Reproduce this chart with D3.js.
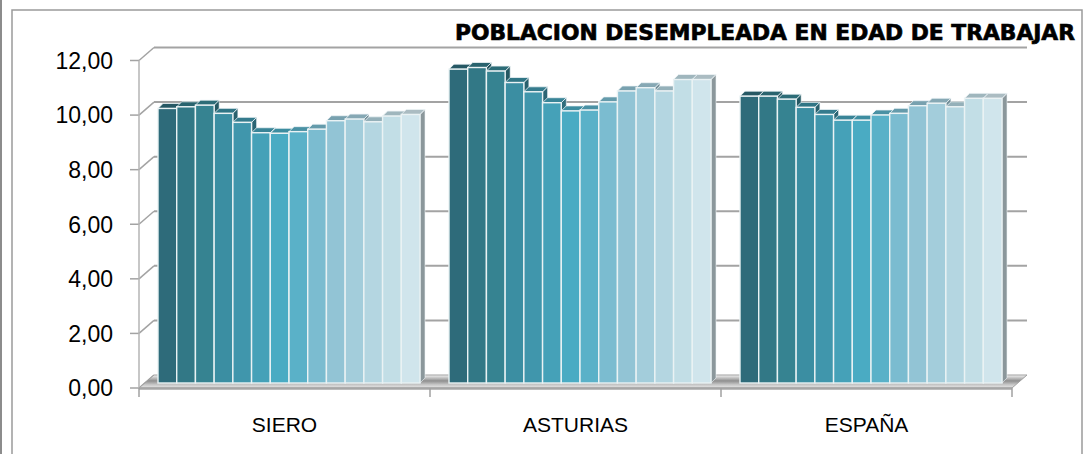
<!DOCTYPE html>
<html>
<head>
<meta charset="utf-8">
<script src="https://cdn.jsdelivr.net/npm/d3@7"></script>
<style>
  body { margin: 0; background: #fff; }
  svg { display: block; }
</style>
</head>
<body>
<div class="bar-chart"></div>
<script>
const W = 1084, H = 454;

// data
const categories = ["SIERO", "ASTURIAS", "ESPAÑA"];
const sieroValues    = [10.06, 10.12, 10.18, 9.88, 9.55, 9.17, 9.15, 9.21, 9.30, 9.61, 9.67, 9.57, 9.78, 9.84];
const asturiasValues = [11.50, 11.56, 11.43, 11.01, 10.67, 10.27, 9.97, 10.00, 10.30, 10.70, 10.82, 10.70, 11.12, 11.12];
const espanaValues   = [10.51, 10.51, 10.40, 10.10, 9.84, 9.63, 9.63, 9.82, 9.88, 10.16, 10.25, 10.12, 10.43, 10.43];
const yTicks = [0, 2, 4, 6, 8, 10, 12];
const seriesColors = ["#2e6b7a", "#327886", "#368391", "#3b8ea2", "#4096ac", "#45a1b8", "#4aabc3",
                      "#5ab1c8", "#7bbcd0", "#92c4d5", "#a3cddb", "#b4d6e1", "#c2dee6", "#d0e5ec"];

const valuesByCat = [sieroValues, asturiasValues, espanaValues];

// 3d offsets: front plane -> back wall, and bar depth
const WALL_DX = 15, WALL_DY = -13;
const BAR_SHIFT_X = 4.5, BAR_SHIFT_Y = -5;   // bar front face sits a bit behind the front plane
const BAR_DX = 5, BAR_DY = -5;               // bar depth

var svg = d3.select('.bar-chart')
    .append('svg')
    .attr('width', W)
    .attr('height', H);

// outer frame
svg.append("line").attr("x1", 1).attr("x2", 1).attr("y1", 0).attr("y2", H)
    .style("stroke", "#8c8c8c").style("stroke-width", 2);
svg.append("rect").attr("x", 12).attr("y", 10).attr("width", 1070).attr("height", H)
    .style("fill", "none").style("stroke", "#9a9a9a").style("stroke-width", 1.5);

var y = d3.scaleLinear().domain([0, 12]).range([388, 60.5]);
var x = d3.scaleBand().domain(categories).range([139, 1012]);
var groupWidth = 262;
var xSeries = d3.scaleBand().domain(d3.range(seriesColors.length)).range([0, groupWidth]);

var fmt = v => d3.format(".2f")(v).replace(".", ",");

// back wall gridlines + diagonals to front ticks
var grid = svg.append("g");
yTicks.forEach(function(t) {
    if (t > 0) {
        grid.append("line")
            .attr("x1", x.range()[0] + WALL_DX).attr("x2", x.range()[1] + WALL_DX)
            .attr("y1", y(t) + WALL_DY).attr("y2", y(t) + WALL_DY)
            .style("stroke", "#a3a3a3").style("stroke-width", 2);
    }
    grid.append("line")
        .attr("x1", x.range()[0]).attr("x2", x.range()[0] + WALL_DX)
        .attr("y1", y(t)).attr("y2", y(t) + WALL_DY)
        .style("stroke", "#a3a3a3").style("stroke-width", 1.5);
    grid.append("line")
        .attr("x1", 130).attr("x2", x.range()[0])
        .attr("y1", y(t)).attr("y2", y(t))
        .style("stroke", "#a3a3a3").style("stroke-width", 1.5);
    svg.append("text")
        .attr("x", 113).attr("y", y(t))
        .attr("dy", "0.36em")
        .attr("text-anchor", "end")
        .style("font-family", "'Liberation Sans', Arial, sans-serif")
        .style("font-size", "23px")
        .style("fill", "#000")
        .text(fmt(t));
});

// front value axis
grid.append("line")
    .attr("x1", x.range()[0]).attr("x2", x.range()[0])
    .attr("y1", y(12)).attr("y2", y(0))
    .style("stroke", "#b5b5b5").style("stroke-width", 1.5);

// floor
var defs = svg.append("defs");
var fg = defs.append("linearGradient").attr("id", "floorGrad")
    .attr("x1", 0).attr("y1", 0).attr("x2", 0).attr("y2", 1);
fg.append("stop").attr("offset", "0%").attr("stop-color", "#f4f4f4");
fg.append("stop").attr("offset", "45%").attr("stop-color", "#8f8f8f");
fg.append("stop").attr("offset", "75%").attr("stop-color", "#c8c8c8");
fg.append("stop").attr("offset", "100%").attr("stop-color", "#e6e6e6");

var x0 = x.range()[0], x1 = x.range()[1], y0 = y(0);
svg.append("polygon")
    .attr("points", [[x0, y0], [x0 + WALL_DX, y0 + WALL_DY], [x1 + WALL_DX, y0 + WALL_DY], [x1, y0]].join(" "))
    .style("fill", "url(#floorGrad)")
    .style("stroke", "#a0a0a0").style("stroke-width", 1);
svg.append("line")
    .attr("x1", x0).attr("x2", x1).attr("y1", y0 + 0.5).attr("y2", y0 + 0.5)
    .style("stroke", "#a6a6a6").style("stroke-width", 2.5);

// category ticks
categories.concat([null]).forEach(function(c, i) {
    var tx = c === null ? x1 : x(c);
    svg.append("line")
        .attr("x1", tx).attr("x2", tx).attr("y1", y0).attr("y2", y0 + 9)
        .style("stroke", "#a0a0a0").style("stroke-width", 1.5);
});

// bars
function barFace(px, py) { return px.map((p, i) => p + "," + py[i]).join(" "); }

categories.forEach(function(cat, ci) {
    var g = svg.append("g");
    var vals = valuesByCat[ci];
    var gx = x(cat) + (x.bandwidth() - groupWidth) / 2 + BAR_SHIFT_X;
    vals.forEach(function(v, si) {
        var bx = gx + xSeries(si), bw = xSeries.bandwidth();
        var top = y(v) + BAR_SHIFT_Y, bottom = y(0) + BAR_SHIFT_Y;
        var c = d3.color(seriesColors[si]);
        // side face
        g.append("polygon")
            .attr("points", barFace([bx + bw, bx + bw + BAR_DX, bx + bw + BAR_DX, bx + bw],
                                    [top, top + BAR_DY, bottom + BAR_DY, bottom]))
            .style("fill", si === vals.length - 1 ? "#8b979b" : c.darker(1.1))
            .style("stroke", "#eef4f6").style("stroke-width", 0.6);
        // top face
        g.append("polygon")
            .attr("points", barFace([bx, bx + BAR_DX, bx + bw + BAR_DX, bx + bw],
                                    [top, top + BAR_DY, top + BAR_DY, top]))
            .style("fill", c.darker(0.55))
            .style("stroke", "#eef4f6").style("stroke-width", 0.8);
        // front face
        g.append("rect")
            .attr("x", bx).attr("y", top)
            .attr("width", bw).attr("height", bottom - top)
            .style("fill", seriesColors[si])
            .style("stroke", "#eaf2f4").style("stroke-width", 1.4);
    });
});

// category labels
categories.forEach(function(cat) {
    svg.append("text")
        .attr("x", x(cat) + x.bandwidth() / 2)
        .attr("y", 432)
        .attr("text-anchor", "middle")
        .style("font-family", "'Liberation Sans', Arial, sans-serif")
        .style("font-size", "21px")
        .style("fill", "#000")
        .text(cat);
});

// title
svg.append("text")
    .attr("x", 455).attr("y", 39.5)
    .attr("textLength", 620)
    .attr("lengthAdjust", "spacingAndGlyphs")
    .style("font-family", "'DejaVu Sans Condensed', 'DejaVu Sans', Verdana, sans-serif")
    .style("font-weight", "bold")
    .style("font-size", "21px")
    .style("fill", "#000")
    .style("stroke", "#000")
    .style("stroke-width", 0.6)
    .text("POBLACION DESEMPLEADA EN EDAD DE TRABAJAR");
</script>
</body>
</html>
